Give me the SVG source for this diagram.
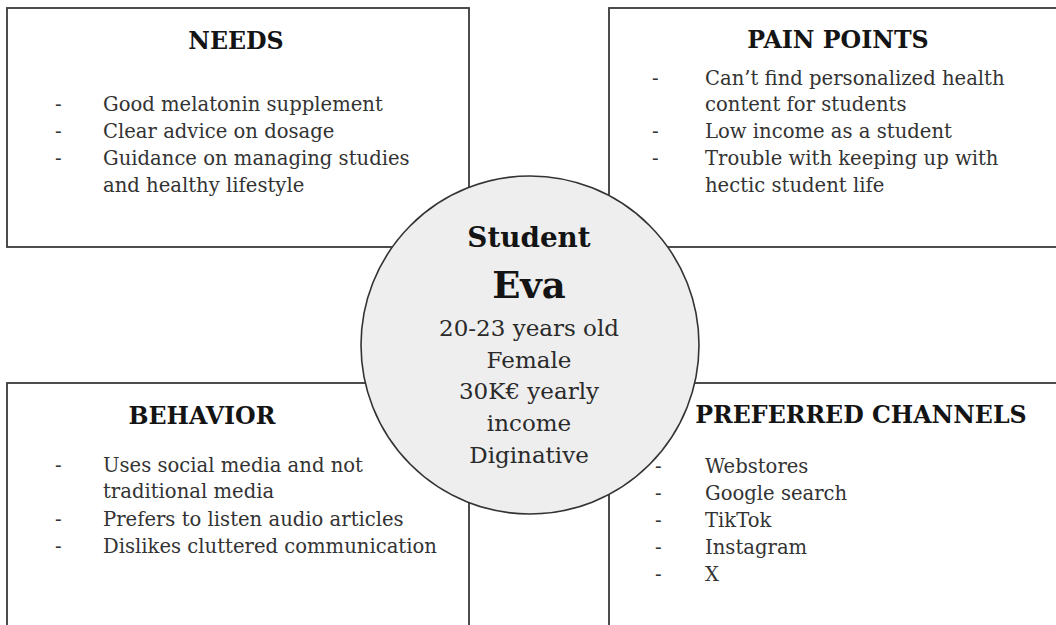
<svg xmlns="http://www.w3.org/2000/svg" width="1056" height="625" viewBox="0 0 1056 625">
  <style>
    .box { fill: #ffffff; stroke: #3a3a3a; stroke-width: 1.8; }
    .hub { fill: #eeeeee; stroke: #333333; stroke-width: 1.6; }
    .title { font-family: "DejaVu Serif", "Liberation Serif", serif; font-weight: bold; font-size: 23.7px; fill: #141414; text-anchor: middle; }
    .item { font-family: "DejaVu Serif", "Liberation Serif", serif; font-size: 19.6px; fill: #333333; }
    .mid { font-family: "DejaVu Serif", "Liberation Serif", serif; font-size: 23px; fill: #2a2a2a; text-anchor: middle; }
    .mid-b { font-family: "DejaVu Serif", "Liberation Serif", serif; font-weight: bold; fill: #141414; text-anchor: middle; }
  </style>

  <rect width="1056" height="625" fill="#ffffff"/>

  <!-- quadrant: needs -->
  <g id="needs">
    <rect class="box" x="7" y="8" width="462" height="239"/>
    <text class="title" x="236" y="49">NEEDS</text>
    <text class="item" x="55" y="111">-</text>
    <text class="item" x="103" y="111">Good melatonin supplement</text>
    <text class="item" x="55" y="138">-</text>
    <text class="item" x="103" y="138">Clear advice on dosage</text>
    <text class="item" x="55" y="165">-</text>
    <text class="item" x="103" y="165">Guidance on managing studies</text>
    <text class="item" x="103" y="192">and healthy lifestyle</text>
  </g>

  <!-- quadrant: pain points -->
  <g id="pain-points">
    <rect class="box" x="609" y="8" width="460" height="239"/>
    <text class="title" x="838" y="48">PAIN POINTS</text>
    <text class="item" x="652" y="85">-</text>
    <text class="item" x="705" y="85">Can’t find personalized health</text>
    <text class="item" x="705" y="111">content for students</text>
    <text class="item" x="652" y="138">-</text>
    <text class="item" x="705" y="138">Low income as a student</text>
    <text class="item" x="652" y="165">-</text>
    <text class="item" x="705" y="165">Trouble with keeping up with</text>
    <text class="item" x="705" y="192">hectic student life</text>
  </g>

  <!-- quadrant: behavior -->
  <g id="behavior">
    <rect class="box" x="7" y="383" width="462" height="260"/>
    <text class="title" x="202" y="424">BEHAVIOR</text>
    <text class="item" x="55" y="472">-</text>
    <text class="item" x="103" y="472">Uses social media and not</text>
    <text class="item" x="103" y="498">traditional media</text>
    <text class="item" x="55" y="526">-</text>
    <text class="item" x="103" y="526">Prefers to listen audio articles</text>
    <text class="item" x="55" y="553">-</text>
    <text class="item" x="103" y="553">Dislikes cluttered communication</text>
  </g>

  <!-- quadrant: preferred channels -->
  <g id="preferred-channels">
    <rect class="box" x="609" y="383" width="460" height="260"/>
    <text class="title" x="861" y="423">PREFERRED CHANNELS</text>
    <text class="item" x="655" y="473">-</text>
    <text class="item" x="705" y="473">Webstores</text>
    <text class="item" x="655" y="500">-</text>
    <text class="item" x="705" y="500">Google search</text>
    <text class="item" x="655" y="527">-</text>
    <text class="item" x="705" y="527">TikTok</text>
    <text class="item" x="655" y="554">-</text>
    <text class="item" x="705" y="554">Instagram</text>
    <text class="item" x="655" y="581">-</text>
    <text class="item" x="705" y="581">X</text>
  </g>

  <!-- central persona -->
  <g id="persona">
    <circle class="hub" cx="530" cy="345" r="169"/>
    <text class="mid-b" x="529" y="247" font-size="27.8px">Student</text>
    <text class="mid-b" x="529" y="298" font-size="37px">Eva</text>
    <text class="mid" x="529" y="336">20-23 years old</text>
    <text class="mid" x="529" y="368">Female</text>
    <text class="mid" x="529" y="399">30K€ yearly</text>
    <text class="mid" x="529" y="431">income</text>
    <text class="mid" x="529" y="463">Diginative</text>
  </g>

  <g id="connectors"></g>
</svg>
